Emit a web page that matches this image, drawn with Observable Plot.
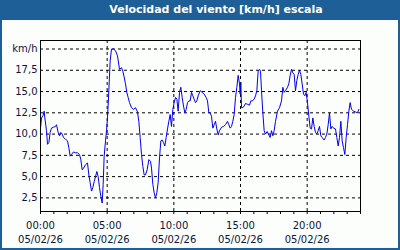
<!DOCTYPE html>
<html><head><meta charset="utf-8">
<script src="https://cdn.jsdelivr.net/npm/d3@7"></script>
<script src="https://cdn.jsdelivr.net/npm/@observablehq/plot@0.6"></script>
<style>
html,body{margin:0;padding:0;background:#fff;}
#card{width:400px;height:250px;box-sizing:border-box;border:2px solid #1f5f97;border-top:none;background:#fcfefc;position:relative;overflow:hidden;}
#title{height:20px;background:#1f5f97;color:#fff;font:bold 11px "DejaVu Sans",sans-serif;line-height:20px;margin:0 -2px;text-align:center;padding-left:32px;box-sizing:border-box;}
#chart svg{display:block;}
</style></head>
<body>
<div id="card"><div id="title">Velocidad del viento [km/h] escala</div><div id="chart"></div></div>
<script>
const hours = [0,0.075,0.2,0.275,0.325,0.45,0.525,0.625,0.725,0.825,0.975,1.125,1.2,1.325,1.425,1.525,1.625,1.725,1.875,2.025,2.125,2.225,2.325,2.475,2.625,2.775,2.925,3.025,3.125,3.225,3.375,3.525,3.625,3.725,3.825,3.925,4.025,4.125,4.225,4.325,4.425,4.525,4.625,4.7,4.775,4.875,4.95,5.025,5.125,5.225,5.325,5.475,5.625,5.775,5.925,6.075,6.175,6.275,6.375,6.475,6.575,6.675,6.825,6.975,7.125,7.275,7.375,7.475,7.575,7.675,7.775,
7.875,8.0,8.125,8.25,8.325,8.425,8.525,8.625,8.725,8.825,8.925,9.025,9.125,9.225,9.325,9.425,9.525,9.625,9.725,9.825,9.925,10.025,10.125,10.225,10.325,10.425,10.525,10.625,10.725,10.825,10.925,11.025,11.125,11.225,11.325,11.425,11.525,11.625,11.725,11.825,11.975,12.125,12.275,12.425,12.525,12.625,12.725,12.825,12.925,13.025,13.125,13.225,13.325,13.425,13.575,13.725,13.875,14.025,14.125,14.225,14.325,14.425,14.525,14.625,14.725,14.825,14.925,14.975,15.025,15.075,15.175,15.275,15.375,15.525,15.675,15.775,15.875,
16.025,16.125,16.225,16.325,16.425,16.5,16.575,16.675,16.775,16.875,17.0,17.125,17.225,17.325,17.425,17.525,17.625,17.775,17.925,18.075,18.175,18.275,18.375,18.525,18.625,18.725,18.825,18.925,19.025,19.125,19.225,19.325,19.425,19.525,19.625,19.725,19.825,19.925,20.025,20.125,20.225,20.325,20.425,20.525,20.625,20.725,20.825,20.925,21.025,21.125,21.275,21.375,21.475,21.575,21.675,21.775,21.875,21.975,22.125,22.225,22.325,22.425,22.525,22.625,22.725,22.825,22.925,23.025,23.125,23.225,23.325,23.475,23.625,23.775,23.875];
const speeds = [10.7,11.9,12.2,12.7,11.9,10.4,8.8,9.0,10.2,10.7,10.8,10.9,11.1,10.2,9.8,10.2,10.0,9.6,9.4,9.2,8.4,7.4,7.6,7.9,7.8,7.8,7.6,7.0,5.8,6.0,6.4,6.6,5.2,4.3,3.3,3.7,4.4,5.0,5.6,5.0,3.7,2.7,1.9,4.1,7.4,9.2,10.4,11.9,15.1,18.6,20.0,20.0,19.8,19.2,17.6,17.8,17.4,16.7,15.9,14.9,14.3,13.7,13.1,12.9,13.1,12.6,11.5,9.6,7.6,6.2,5.2,
5.2,5.8,7.0,6.8,6.0,4.1,3.1,2.5,3.1,4.3,7.2,9.2,9.3,9.0,8.6,9.6,10.6,11.5,12.3,10.9,12.9,13.7,14.3,14.1,12.7,14.9,15.5,14.3,13.3,12.5,12.9,13.7,13.9,13.9,14.9,14.5,14.1,13.7,13.9,14.5,15.1,14.9,14.7,14.3,13.9,12.5,12.5,12.1,10.7,11.1,11.5,10.6,9.9,10.4,10.8,10.9,11.1,11.5,11.1,10.7,10.9,11.5,12.3,14.3,15.5,16.9,15.9,14.7,16.1,13.1,13.1,13.3,13.6,13.5,13.4,13.9,13.9,
14.1,14.5,15.1,17.4,17.6,17.4,15.1,12.5,10.4,10.0,10.3,9.9,9.6,10.4,9.8,10.4,11.5,12.7,13.1,13.9,15.5,14.9,15.1,15.5,15.9,16.9,17.6,17.2,17.0,15.1,16.3,17.0,17.5,17.0,15.9,14.7,14.5,14.9,13.7,12.1,10.7,10.6,11.9,10.9,10.2,10.0,10.4,10.9,9.8,9.6,9.3,9.6,10.0,11.1,12.5,10.6,10.9,10.7,10.6,9.6,8.6,9.6,11.5,9.2,8.4,7.6,9.6,11.1,12.7,13.7,12.9,12.7,12.6,12.5,12.9];
const xLabelHours = [0,5,10,15,20];
const xTimeLabels = ["00:00","05:00","10:00","15:00","20:00"];
const xDateLabels = ["05/02/26","05/02/26","05/02/26","05/02/26","05/02/26"];
const yTicks = [2.5,5,7.5,10,12.5,15,17.5,20];
const yTickLabels = ["2,5","5,0","7,5","10,0","12,5","15,0","17,5","km/h"];
const hourTicks = d3.range(0,25);

const data = hours.map((h,i)=>({h, v: speeds[i]}));
const ink = "#0c1440";
const chart = Plot.plot({
  width: 396, height: 228,
  marginLeft: 38, marginRight: 38, marginTop: 20, marginBottom: 37,
  style: {fontFamily: "'DejaVu Sans', sans-serif", fontSize: "10px", color: ink, background: "transparent"},
  x: {domain: [0,24]},
  y: {domain: [0.9,21]},
  marks: [
    Plot.gridY(yTicks, {stroke: "#000", strokeOpacity: 1, strokeDasharray: "3,3"}),
    Plot.gridX([5,10,15,20], {stroke: "#000", strokeOpacity: 1, strokeDasharray: "3,3"}),
    Plot.axisY(yTicks, {tickSize: 0, tickPadding: 3, tickFormat: (d,i)=>yTickLabels[i], label: null, fill: ink}),
    Plot.axisX(hourTicks, {tickSize: 3, text: null, label: null, stroke: "#000"}),
    Plot.axisX(xLabelHours, {tickSize: 0, tickPadding: 8, lineHeight: 1.4, tickFormat: (d,i)=>xTimeLabels[i]+"\n"+xDateLabels[i], label: null, fill: ink}),
    Plot.lineY(data, {x: "h", y: "v", stroke: "#0000ee", strokeWidth: 1}),
    Plot.frame({stroke: "#000"})
  ]
});
document.getElementById("chart").appendChild(chart);
</script>
</body></html>
